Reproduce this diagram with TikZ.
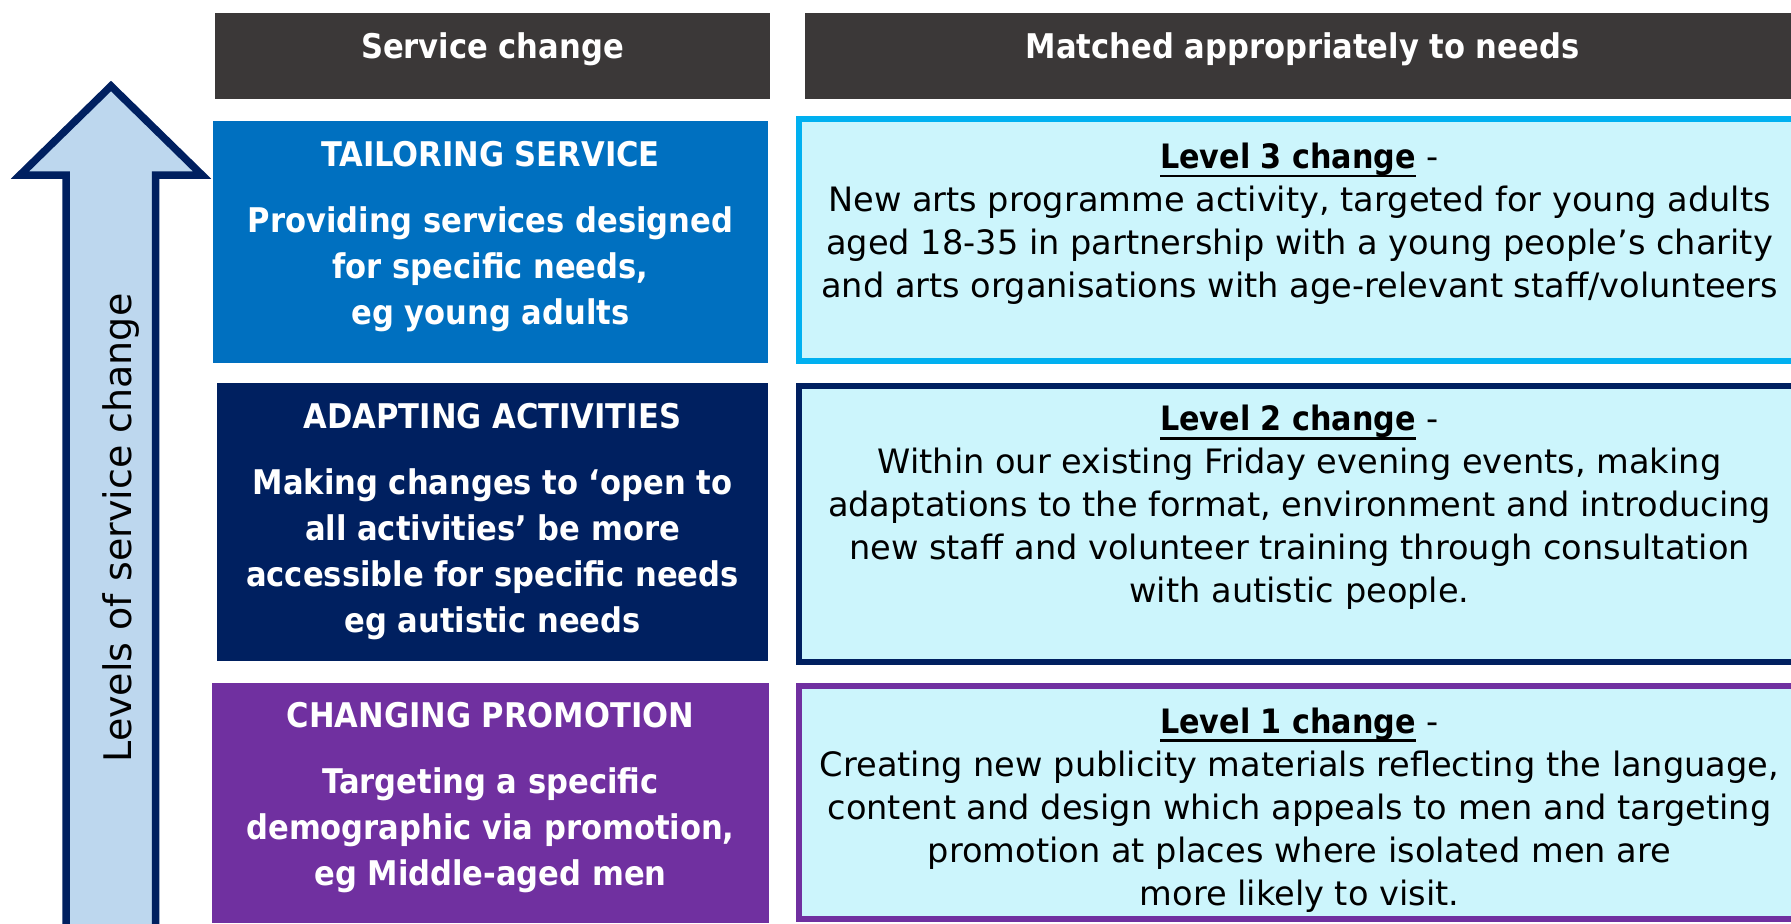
\documentclass[tikz,border=0pt]{standalone}
\usepackage{fontspec}
\setmainfont{DejaVu Sans Condensed}
\newfontfamily\widefont{DejaVu Sans}
\newfontfamily\titlefont{DejaVu Sans Condensed}
\usetikzlibrary{positioning}

\definecolor{headerGray}{RGB}{59,56,56}
\definecolor{tailorBlue}{RGB}{0,112,192}
\definecolor{adaptNavy}{RGB}{0,32,96}
\definecolor{promoPurple}{RGB}{112,48,160}
\definecolor{levelFill}{RGB}{204,245,252}
\definecolor{levelCyan}{RGB}{0,176,240}
\definecolor{arrowFill}{RGB}{189,215,238}

\newcommand{\levelTitle}[1]{{\titlefont\bfseries\setbox0\hbox{#1}\rlap{\rule[-4.6pt]{\wd0}{1.4pt}}\box0} -}

\begin{document}
\begin{tikzpicture}[x=0.5pt, y=-0.5pt]
        % Style definitions
        \tikzstyle{boxHeader} = [fill=headerGray, text=white, font=\bfseries\fontsize{17}{21}\selectfont, minimum height=43pt, text height=12.5pt, text depth=10.1pt, inner sep=0pt]
        \tikzstyle{boxService} = [text=white, font=\bfseries\fontsize{17}{23}\selectfont, align=center, minimum width=277.5pt, inner sep=0pt]
        \tikzstyle{boxLevel} = [draw, line width=3pt, fill=levelFill, font=\widefont\fontsize{16.8}{21.5}\selectfont, align=center, minimum width=500.5pt, inner sep=0pt]

        \useasboundingbox (0,0) rectangle (1791,923);
        \clip (0,0) rectangle (1791,923);

        % Arrow
        \draw[line width=3.75pt, draw=adaptNavy, fill=arrowFill] (111,86) -- (202,175) -- (155.5,175) -- (155.5,945) -- (66,945) -- (66,175) -- (20,175) -- cycle;
        \node[rotate=90, anchor=base, font=\widefont\fontsize{19}{19}\selectfont] (levelsLabel) at (131,528) {Levels of service change};

        % Header nodes
        \node[boxHeader, minimum width=277.5pt] (headService) at (492.5,56) {Service change};
        \node[boxHeader, minimum width=497.5pt] (headMatched) at (1302.5,56) {Matched appropriately to needs};

        % Service nodes
        \node[boxService, fill=tailorBlue, minimum height=121pt] (tailoring) at (490.5,242) {TAILORING SERVICE\\[10pt]Providing services designed\\for specific needs,\\eg young adults\\[-14pt]\mbox{}};
        \node[boxService, fill=adaptNavy, minimum width=275.5pt, minimum height=139pt] (adapting) at (492.5,522) {ADAPTING ACTIVITIES\\[10pt]Making changes to ‘open to\\all activities’ be more\\accessible for specific needs\\eg autistic needs};
        \node[boxService, fill=promoPurple, minimum width=278.5pt, minimum height=120pt] (promotion) at (490.5,803) {CHANGING PROMOTION\\[10pt]Targeting a specific\\demographic via promotion,\\eg Middle-aged men\\[-14pt]\mbox{}};

        % Level nodes
        \node[boxLevel, draw=levelCyan, minimum height=121pt] (levelThree) at (1299.5,240) {\levelTitle{Level 3 change}\\New arts programme activity, targeted for young adults\\aged 18-35 in partnership with a young people’s charity\\and arts organisations with age-relevant staff/volunteers\\[-1.5pt]\mbox{}};
        \node[boxLevel, draw=adaptNavy, minimum height=138pt] (levelTwo) at (1299.5,524) {\levelTitle{Level 2 change}\\Within our existing Friday evening events, making\\adaptations to the format, environment and introducing\\new staff and volunteer training through consultation\\with autistic people.\\[-1.5pt]\mbox{}};
        \node[boxLevel, draw=promoPurple, minimum height=116.5pt] (levelOne) at (1299.5,802.5) {\mbox{}\\[-1.5pt]\levelTitle{Level 1 change}\\Creating new publicity materials reflecting the language,\\content and design which appeals to men and targeting\\promotion at places where isolated men are\\more likely to visit.};
\end{tikzpicture}
\end{document}
